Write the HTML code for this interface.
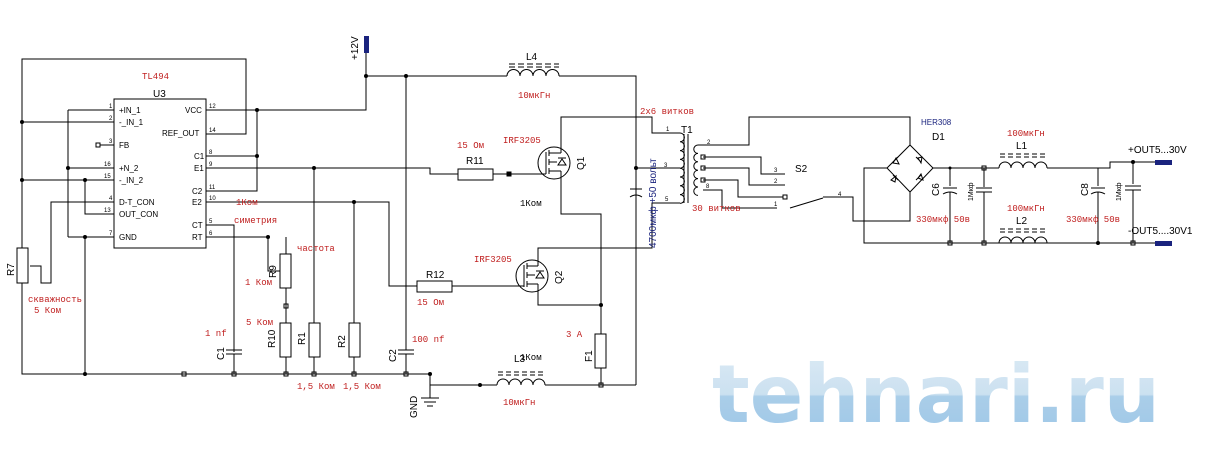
<!DOCTYPE html>
<html><head><meta charset="utf-8"><style>
html,body{margin:0;padding:0;background:#fff}
svg{display:block}
text{font-family:"Liberation Sans",sans-serif}
.r{fill:#c02020;font-size:9px;font-family:"Liberation Mono",monospace;font-weight:normal}
.b{fill:#000;font-size:10px}
.s{fill:#000;font-size:8px}
</style></head><body>
<svg width="1205" height="455" viewBox="0 0 1205 455" xmlns="http://www.w3.org/2000/svg">
<defs>
<linearGradient id="wg" x1="0" y1="0" x2="0" y2="1">
<stop offset="0" stop-color="#d6e7f3"/><stop offset="0.5" stop-color="#c3dcee"/><stop offset="0.52" stop-color="#9cc6e6"/><stop offset="1" stop-color="#8dbde2"/></linearGradient>
</defs>
<rect width="1205" height="455" fill="#fff"/>
<!-- watermark -->
<text x="712" y="422" font-size="80" font-weight="bold" fill="url(#wg)" opacity="0.85" textLength="448" lengthAdjust="spacingAndGlyphs" style="font-family:'DejaVu Sans',sans-serif">tehnari.ru</text>

<g stroke="#000" stroke-width="1" fill="none">
<rect x="114" y="99" width="92" height="149"/>
<polyline points="206,134 246,134 246,59 22,59 22,248"/>
<rect x="17" y="248" width="11" height="35"/>
<polyline points="22,283 22,374 430,374"/>
<polyline points="114,202 51,202 51,283 41,283 41,266 30,266"/>
<line x1="68" y1="110" x2="114" y2="110"/>
<line x1="22" y1="122" x2="114" y2="122"/>
<line x1="100" y1="145" x2="114" y2="145"/>
<rect x="96" y="143" width="4" height="4"/>
<line x1="68" y1="168" x2="114" y2="168"/>
<line x1="22" y1="180" x2="114" y2="180"/>
<polyline points="85,180 85,214 114,214"/>
<line x1="68" y1="237" x2="114" y2="237"/>
<line x1="68" y1="110" x2="68" y2="237"/>
<line x1="85" y1="237" x2="85" y2="374"/>
<polyline points="206,110 366,110 366,53"/>
<polyline points="206,156 257,156"/>
<polyline points="206,191 257,191 257,110"/>
<polyline points="206,168 430,168 430,174 458,174"/>
<rect x="458" y="169" width="35" height="11"/>
<line x1="493" y1="174" x2="540" y2="174"/>
<rect x="507" y="172" width="4" height="4" fill="#000"/>
<polyline points="206,202 389,202 389,286 417,286"/>
<rect x="417" y="281" width="35" height="11"/>
<line x1="452" y1="286" x2="516" y2="286"/>
<polyline points="206,225 234,225 234,352"/>
<line x1="226" y1="350" x2="242" y2="350"/><line x1="226" y1="354" x2="242" y2="354"/>
<line x1="234" y1="354" x2="234" y2="374"/>
<polyline points="206,237 268,237 268,271 280,271"/>
<rect x="280" y="254" width="11" height="34"/>
<line x1="286" y1="237" x2="286" y2="254"/>
<line x1="286" y1="288" x2="286" y2="323"/>
<rect x="284" y="304" width="4" height="4"/>
<rect x="280" y="323" width="11" height="34"/>
<line x1="286" y1="357" x2="286" y2="374"/>
<line x1="314" y1="168" x2="314" y2="323"/>
<rect x="309" y="323" width="11" height="34"/>
<line x1="314" y1="357" x2="314" y2="374"/>
<line x1="354" y1="202" x2="354" y2="323"/>
<rect x="349" y="323" width="11" height="34"/>
<line x1="354" y1="357" x2="354" y2="374"/>
<polyline points="366,76 507,76"/>
<line x1="406" y1="76" x2="406" y2="350"/>
<line x1="398" y1="350" x2="414" y2="350"/><line x1="398" y1="354" x2="414" y2="354"/>
<line x1="406" y1="354" x2="406" y2="374"/>
<path d="M507,76 a6.5,6.5 0 0 1 13,0 a6.5,6.5 0 0 1 13,0 a6.5,6.5 0 0 1 13,0 a6.5,6.5 0 0 1 13,0"/>
<path d="M509,64h6M518,64h6M527,64h6M536,64h6M545,64h6M554,64h5M509,67h6M518,67h6M527,67h6M536,67h6M545,67h6M554,67h5"/>
<polyline points="559,76 636,76 636,385"/>
<circle cx="554" cy="163" r="16"/>
<polyline points="540,174 546,174"/>
<line x1="546" y1="152" x2="546" y2="174"/>
<path d="M549,150v6M549,159v6M549,168v6M549,153h12M549,171h12M549,162h8"/>
<polyline points="561,153 561,117 652,117 652,133 680,133"/>
<polyline points="561,171 561,214 601,214 601,334"/>
<path d="M562,159 l4,6 h-8 z M558,158h8"/>
<circle cx="532" cy="276" r="16"/>
<line x1="516" y1="286" x2="524" y2="286"/>
<line x1="524" y1="265" x2="524" y2="287"/>
<path d="M527,263v6M527,272v6M527,281v6M527,266h11M527,284h11M527,275h8"/>
<polyline points="538,266 538,248 652,248 652,203 680,203"/>
<polyline points="538,284 538,305 601,305"/>
<path d="M540,272 l4,6 h-8 z M536,271h8"/>
<rect x="595" y="334" width="11" height="34"/>
<line x1="601" y1="368" x2="601" y2="385"/>
<polyline points="430,374 430,385 497,385"/>
<line x1="430" y1="385" x2="430" y2="398"/>
<path d="M421,398h18M424,402h12M427,406h6"/>
<path d="M497,385 a6,6 0 0 1 12,0 a6,6 0 0 1 12,0 a6,6 0 0 1 12,0 a6,6 0 0 1 12,0"/>
<path d="M498,372h5M506,372h5M514,372h5M522,372h5M530,372h5M538,372h5M498,375h5M506,375h5M514,375h5M522,375h5M530,375h5M538,375h5"/>
<line x1="545" y1="385" x2="636" y2="385"/>
<line x1="630" y1="189" x2="642" y2="189"/>
<path d="M630,197 q6,-4 12,0"/>
<line x1="636" y1="168" x2="680" y2="168"/>
<path d="M680,133 a4.4,4.4 0 0 1 0,8.8 a4.4,4.4 0 0 1 0,8.8 a4.4,4.4 0 0 1 0,8.8 a4.4,4.4 0 0 1 0,8.8 a4.4,4.4 0 0 1 0,8.8 a4.4,4.4 0 0 1 0,8.8 a4.4,4.4 0 0 1 0,8.8 a4.4,4.4 0 0 1 0,8.8"/>
<line x1="684" y1="134" x2="684" y2="203"/><line x1="688" y1="134" x2="688" y2="203"/>
<path d="M698,145 a4.2,4.2 0 0 0 0,8.4 a4.2,4.2 0 0 0 0,8.4 a4.2,4.2 0 0 0 0,8.4 a4.2,4.2 0 0 0 0,8.4 a4.2,4.2 0 0 0 0,8.4 a4.2,4.2 0 0 0 0,8.4"/>
<polyline points="698,145 749,145 749,117 910,117 910,145"/>
<polyline points="703,157 761,157 761,174 785,174"/>
<polyline points="703,168 749,168 749,185 785,185"/>
<polyline points="703,180 738,180 738,197 783,197"/>
<polyline points="703,190 722,190 722,208 777,208"/>
<rect x="701" y="155" width="4" height="4"/><rect x="701" y="166" width="4" height="4"/><rect x="701" y="178" width="4" height="4"/>
<rect x="783" y="195" width="4" height="4"/>
<line x1="790" y1="208" x2="823" y2="198"/>
<polyline points="823,197 853,197 853,221 910,221 910,192"/>
<polygon points="910,145 933,168 910,192 887,168"/>
<polyline points="887,168 864,168 864,243 1133,243"/>
<polyline points="933,168 999,168"/>
<path d="M893,162 l5,-5 M896,158 l3,6 l-6,-1 z M916,157 l5,5 M918,158 l4,-1 l-1,6 z M893,175 l5,5 M896,176 l-1,6 l-4,-2 z M916,180 l5,-5 M918,178 l5,2 l-2,-6 z"/>
<line x1="950" y1="168" x2="950" y2="186"/><line x1="943" y1="188" x2="957" y2="188"/><path d="M943,194 q7,-4 14,0"/><line x1="950" y1="192" x2="950" y2="243"/>
<line x1="984" y1="168" x2="984" y2="187"/><line x1="976" y1="188" x2="992" y2="188"/><line x1="976" y1="192" x2="992" y2="192"/><line x1="984" y1="192" x2="984" y2="243"/>
<rect x="982" y="166" width="4" height="4"/><rect x="982" y="241" width="4" height="4"/><rect x="948" y="241" width="4" height="4"/>
<path d="M999,168 a6,6 0 0 1 12,0 a6,6 0 0 1 12,0 a6,6 0 0 1 12,0 a6,6 0 0 1 12,0"/>
<path d="M1000,154h5M1008,154h5M1016,154h5M1024,154h5M1032,154h5M1040,154h5M1000,157h5M1008,157h5M1016,157h5M1024,157h5M1032,157h5M1040,157h5"/>
<path d="M999,243 a6,6 0 0 1 12,0 a6,6 0 0 1 12,0 a6,6 0 0 1 12,0 a6,6 0 0 1 12,0"/>
<path d="M1000,229h5M1008,229h5M1016,229h5M1024,229h5M1032,229h5M1040,229h5M1000,232h5M1008,232h5M1016,232h5M1024,232h5M1032,232h5M1040,232h5"/>
<polyline points="1047,168 1110,168 1110,162 1155,162"/>
<line x1="1047" y1="243" x2="1155" y2="243"/>
<line x1="1098" y1="168" x2="1098" y2="186"/><line x1="1091" y1="188" x2="1105" y2="188"/><path d="M1091,194 q7,-4 14,0"/><line x1="1098" y1="192" x2="1098" y2="243"/>
<line x1="1133" y1="162" x2="1133" y2="184"/><line x1="1125" y1="186" x2="1141" y2="186"/><line x1="1125" y1="190" x2="1141" y2="190"/><line x1="1133" y1="190" x2="1133" y2="243"/>
<rect x="1131" y="241" width="4" height="4"/>
<rect x="182" y="372" width="4" height="4"/><rect x="232" y="372" width="4" height="4"/><rect x="284" y="372" width="4" height="4"/><rect x="312" y="372" width="4" height="4"/><rect x="352" y="372" width="4" height="4"/><rect x="404" y="372" width="4" height="4"/><rect x="599" y="383" width="4" height="4"/>
</g>
<rect x="364" y="36" width="5" height="17" fill="#1a237e"/>
<rect x="1155" y="160" width="17" height="5" fill="#1a237e"/>
<rect x="1155" y="241" width="17" height="5" fill="#1a237e"/>
<g fill="#000">
<circle cx="22" cy="122" r="2"/><circle cx="22" cy="180" r="2"/><circle cx="68" cy="168" r="2"/><circle cx="85" cy="180" r="2"/><circle cx="85" cy="237" r="2"/><circle cx="85" cy="374" r="2"/>
<circle cx="257" cy="110" r="2"/><circle cx="257" cy="156" r="2"/><circle cx="314" cy="168" r="2"/><circle cx="354" cy="202" r="2"/><circle cx="268" cy="237" r="2"/>
<circle cx="366" cy="76" r="2"/><circle cx="406" cy="76" r="2"/><circle cx="430" cy="374" r="2"/><circle cx="480" cy="385" r="2"/><circle cx="601" cy="305" r="2"/><circle cx="636" cy="168" r="2"/>
<circle cx="1098" cy="243" r="2"/><circle cx="1133" cy="162" r="2"/><circle cx="950" cy="168" r="1.5"/>
</g>
<text class="b" x="153" y="97" font-size="11">U3</text>
<text class="s" x="119" y="113">+IN_1</text><text class="s" x="119" y="125">-_IN_1</text><text class="s" x="119" y="148">FB</text>
<text class="s" x="119" y="171">+N_2</text><text class="s" x="119" y="183">-_IN_2</text><text class="s" x="119" y="205">D-T_CON</text><text class="s" x="119" y="217">OUT_CON</text><text class="s" x="119" y="240">GND</text>
<text class="s" x="185" y="113">VCC</text><text class="s" x="162" y="136">REF_OUT</text><text class="s" x="194" y="159">C1</text><text class="s" x="194" y="171">E1</text><text class="s" x="192" y="194">C2</text><text class="s" x="192" y="205">E2</text><text class="s" x="192" y="228">CT</text><text class="s" x="192" y="240">RT</text>
<g font-size="6" fill="#000"><text x="109" y="108">1</text><text x="109" y="120">2</text><text x="109" y="143">3</text><text x="104" y="166">16</text><text x="104" y="178">15</text><text x="109" y="200">4</text><text x="104" y="212">13</text><text x="109" y="235">7</text>
<text x="209" y="108">12</text><text x="209" y="132">14</text><text x="209" y="154">8</text><text x="209" y="166">9</text><text x="209" y="189">11</text><text x="209" y="200">10</text><text x="209" y="223">5</text><text x="209" y="235">6</text></g>
<text class="b" transform="translate(14,276) rotate(-90)">R7</text>
<text class="b" transform="translate(276,278) rotate(-90)">R9</text>
<text class="b" transform="translate(275,348) rotate(-90)">R10</text>
<text class="b" transform="translate(305,345) rotate(-90)">R1</text>
<text class="b" transform="translate(345,348) rotate(-90)">R2</text>
<text class="b" transform="translate(224,360) rotate(-90)">C1</text>
<text class="b" transform="translate(396,362) rotate(-90)">C2</text>
<text class="b" transform="translate(417,418) rotate(-90)">GND</text>
<text class="b" transform="translate(358,60) rotate(-90)">+12V</text>
<text class="b" x="466" y="164">R11</text><text class="b" x="426" y="278">R12</text>
<text class="b" x="526" y="60" font-size="11">L4</text><text class="b" x="514" y="362" font-size="11">L3</text>
<text class="b" transform="translate(584,170) rotate(-90)">Q1</text>
<text class="b" transform="translate(562,284) rotate(-90)">Q2</text>
<text class="b" transform="translate(592,362) rotate(-90)">F1</text>
<text class="b" x="681" y="133" font-size="11">T1</text>
<text class="b" x="795" y="172" font-size="11">S2</text>
<text class="b" x="932" y="140">D1</text>
<text x="921" y="125" font-size="8" fill="#1a237e">HER308</text>
<text class="b" x="1016" y="149" font-size="11">L1</text><text class="b" x="1016" y="224" font-size="11">L2</text>
<text class="b" x="1128" y="153">+OUT5...30V</text><text class="b" x="1128" y="234">-OUT5....30V1</text>
<text class="b" transform="translate(939,196) rotate(-90)">C6</text>
<text class="b" transform="translate(1088,196) rotate(-90)">C8</text>
<text x="0" y="0" font-size="10" fill="#1a237e" transform="translate(656,248) rotate(-90)">4700мкф +50 вольт</text>
<g font-size="6" fill="#000"><text x="774" y="172">3</text><text x="774" y="183">2</text><text x="774" y="206">1</text><text x="838" y="196">4</text><text x="707" y="144">2</text><text x="706" y="188">8</text><text x="666" y="131">1</text><text x="664" y="167">3</text><text x="665" y="201">5</text></g>
<text class="r" x="142" y="79">TL494</text>
<text class="r" x="28" y="302">скважность</text><text class="r" x="34" y="313">5 Ком</text>
<text class="r" x="236" y="205">1Ком</text><text class="r" x="234" y="223">симетрия</text><text class="r" x="297" y="251">частота</text>
<text class="r" x="245" y="285">1 Ком</text><text class="r" x="246" y="325">5 Ком</text><text class="r" x="205" y="336">1 nf</text>
<text class="r" x="297" y="389">1,5 Ком</text><text class="r" x="343" y="389">1,5 Ком</text>
<text class="r" x="412" y="342">100 nf</text><text class="r" x="417" y="305">15 Ом</text>
<text class="r" x="457" y="148">15 Ом</text><text class="r" x="503" y="143">IRF3205</text><text class="r" x="474" y="262">IRF3205</text>
<text class="r" x="518" y="98">10мкГн</text><text class="r" x="503" y="405">10мкГн</text><text class="r" x="520" y="206" style="fill:#000">1Ком</text><text class="r" x="520" y="360" style="fill:#000">1Ком</text>
<text class="r" x="566" y="337">3 A</text>
<text class="r" x="640" y="114">2х6 витков</text><text class="r" x="692" y="211">30 витков</text>
<text class="r" x="1007" y="136">100мкГн</text><text class="r" x="1007" y="211">100мкГн</text>
<text class="r" x="916" y="222">330мкф 50в</text><text class="r" x="1066" y="222">330мкф 50в</text>
<text x="0" y="0" font-size="7" fill="#000" transform="translate(973,201) rotate(-90)">1Мкф</text>
<text x="0" y="0" font-size="7" fill="#000" transform="translate(1121,201) rotate(-90)">1Мкф</text>
</svg>
</body></html>
